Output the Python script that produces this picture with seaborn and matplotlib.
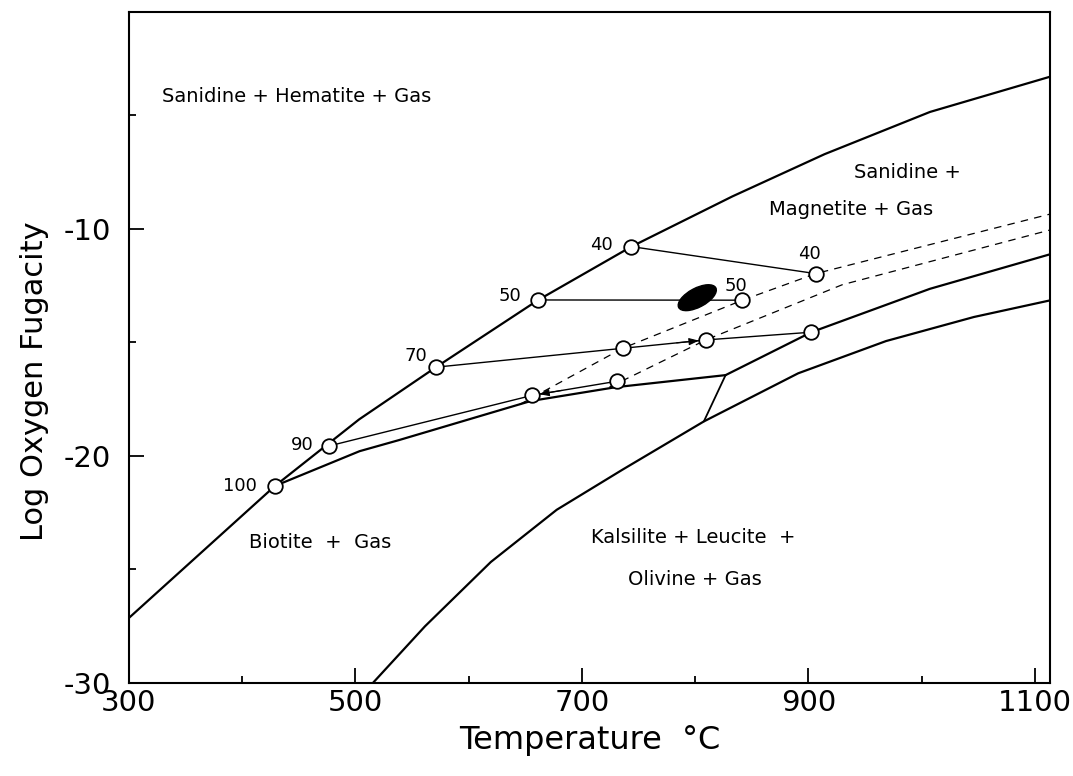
import numpy as np
import pandas as pd
import matplotlib
matplotlib.use("Agg")
import matplotlib.pyplot as plt
import seaborn as sns
from matplotlib.patches import Ellipse
from matplotlib import transforms

# ---------------- data (T in degC, log fO2) ----------------
# hematite-magnetite boundary
hm_T = [300, 429.1, 503.4, 571.3, 661.6, 743.9, 833.0, 914.4, 1007.5, 1113.4]
hm_f = [-27.14, -21.32, -18.39, -16.09, -13.13, -10.78, -8.57, -6.71, -4.85, -3.30]
# biotite upper stability (low T part)
bt_T = [429.1, 503.8, 538.7, 655.0, 730.2, 827.0]
bt_f = [-21.32, -19.79, -19.30, -17.58, -16.97, -16.44]
# biotite upper stability (high T part)
bt2_T = [827.0, 902.7, 1007.4, 1113.4]
bt2_f = [-16.44, -14.55, -12.64, -11.12]
# kink segment
kink_T = [827.0, 807.8]
kink_f = [-16.44, -18.48]
# kalsilite + leucite + olivine boundary
ks_T = [515.5, 561.6, 619.7, 677.9, 736.1, 807.8, 891.1, 968.7, 1046.3, 1113.4]
ks_f = [-30.0, -27.5, -24.67, -22.37, -20.6, -18.48, -16.36, -14.94, -13.88, -13.15]
# tie lines (annite %)
tie40_T = [743.9, 906.6]
tie40_f = [-10.78, -11.97]
tie50_T = [661.6, 841.9]
tie50_f = [-13.13, -13.14]
tie70_T = [571.3, 736.0, 809.6, 902.7]
tie70_f = [-16.09, -15.26, -14.89, -14.55]
tie90_T = [476.8, 656.4, 731.0]
tie90_f = [-19.56, -17.33, -16.71]
# dashed curves
dashA_T = [644.9, 736.0, 841.9, 906.6, 1113.4]
dashA_f = [-17.74, -15.26, -13.14, -11.97, -9.35]
dashB_T = [724.4, 809.6, 930.0, 1113.4]
dashB_f = [-16.97, -14.89, -12.46, -10.05]
# open circles
circ_T = [429.1, 476.8, 571.3, 661.6, 743.9, 906.6, 841.9, 736.0, 809.6, 902.7, 656.4, 731.0]
circ_f = [-21.32, -19.56, -16.09, -13.13, -10.78, -11.97, -13.14, -15.26, -14.89, -14.55, -17.33, -16.71]
# composition labels
comp_labels = ["100", "90", "70", "50", "40", "40", "50"]
comp_T = [429.1, 476.8, 571.3, 661.6, 743.9, 906.6, 841.9]
comp_f = [-21.32, -19.56, -16.09, -13.13, -10.78, -11.97, -13.14]
# natural sample (filled ellipse)
sample_T = 802.0
sample_f = -13.03

x_ticks = [300, 500, 700, 900, 1100]
x_minor = [400, 600, 800, 1000]
y_ticks = [-30, -20, -10]
y_minor = [-25, -15, -5]
y_ticklabels = ["-30", "-20", "-10"]

# ---------------- style ----------------
sns.set_theme(style="white")
plt.rcParams['font.family'] = ['DejaVu Sans']
plt.rcParams['axes.unicode_minus'] = False
plt.rcParams['text.color'] = 'black'
plt.rcParams['axes.labelcolor'] = 'black'
plt.rcParams['xtick.color'] = 'black'
plt.rcParams['ytick.color'] = 'black'

fig = plt.figure(figsize=(10.73, 7.76), dpi=100)
ax = fig.add_axes([0.120, 0.1198, 0.8586, 0.8647])

def line(T, f, lw=1.5):
    df = pd.DataFrame({"T": T, "f": f})
    sns.lineplot(data=df, x="T", y="f", ax=ax, color="black", lw=lw,
                 sort=False, estimator=None, zorder=2)
    return ax.lines[-1]

line(hm_T, hm_f, 1.6)
line(bt_T, bt_f, 1.6)
line(bt2_T, bt2_f, 1.6)
line(kink_T, kink_f, 1.3)
line(ks_T, ks_f, 1.6)
for T, f in [(tie40_T, tie40_f), (tie50_T, tie50_f), (tie70_T, tie70_f), (tie90_T, tie90_f)]:
    line(T, f, 1.0)
for T, f in [(dashA_T, dashA_f), (dashB_T, dashB_f)]:
    ln = line(T, f, 0.9)
    ln.set_dashes([6, 5])

# small direction arrows on tie lines (pointing into a circle)
def arrow_into(T0, f0, T1, f1):
    # arrow along segment from (T0,f0) towards circle at (T1,f1)
    Ts = T1 + 0.35 * (T0 - T1)
    fs_ = f1 + 0.35 * (f0 - f1)
    ax.annotate("", xy=(T1, f1), xytext=(Ts, fs_),
                arrowprops=dict(arrowstyle="-|>,head_length=0.5,head_width=0.18",
                                color="black", lw=0.8, shrinkA=0, shrinkB=5),
                zorder=3)

arrow_into(tie90_T[2], tie90_f[2], tie90_T[1], tie90_f[1])
arrow_into(tie70_T[1], tie70_f[1], tie70_T[2], tie70_f[2])

sns.scatterplot(x=circ_T, y=circ_f, ax=ax, s=110, facecolor="white",
                edgecolor="black", linewidth=1.3, zorder=4)

# sample ellipse (size in screen units)
tr = fig.dpi_scale_trans + transforms.ScaledTranslation(sample_T, sample_f, ax.transData)
ax.add_patch(Ellipse((0, 0), width=0.42, height=0.19, angle=28, transform=tr,
                     facecolor="black", edgecolor="black", zorder=3))

# composition labels
offs = [(-18, 0), (-15, 1), (-9, 11), (-17, 4), (-19, 2), (-6, 20), (-7, 14)]
has = ["right", "right", "right", "right", "right", "center", "center"]
for lab, T, f, (dx, dy), ha in zip(comp_labels, comp_T, comp_f, offs, has):
    ax.annotate(lab, (T, f), xytext=(dx, dy), textcoords="offset pixels",
                ha=ha, va="center", fontsize=13)

# region labels
fs = 14
ax.text(329, -4.18, "Sanidine + Hematite + Gas", fontsize=fs, va="center", ha="left")
ax.text(940.4, -7.53, "Sanidine +", fontsize=fs, va="center", ha="left")
ax.text(865, -9.16, "Magnetite + Gas", fontsize=fs, va="center", ha="left")
ax.text(406.4, -23.79, "Biotite  +  Gas", fontsize=fs, va="center", ha="left")
ax.text(708, -23.57, "Kalsilite + Leucite  +", fontsize=fs, va="center", ha="left")
ax.text(740.8, -25.46, "Olivine + Gas", fontsize=fs, va="center", ha="left")

# axes
ax.set_xlim(300, 1113.5)
ax.set_ylim(-30, -0.45)
ax.set_xticks(x_ticks)
ax.set_xticklabels([str(v) for v in x_ticks])
ax.set_xticks(x_minor, minor=True)
ax.set_yticks(y_ticks)
ax.set_yticklabels(y_ticklabels)
ax.set_yticks(y_minor, minor=True)
ax.tick_params(which="both", direction="in", color="black", width=1.3,
               bottom=True, left=True, top=False, right=False)
ax.tick_params(which="major", length=11)
ax.tick_params(which="minor", length=5)
ax.tick_params(axis="x", labelsize=21, pad=4)
ax.tick_params(axis="y", labelsize=21, pad=13)
for s in ax.spines.values():
    s.set_color("black")
    s.set_linewidth(1.5)
ax.set_xlabel("Temperature  °C", fontsize=23, labelpad=6)
ax.set_ylabel("Log Oxygen Fugacity", fontsize=22)
ax.yaxis.set_label_coords(-0.087, 0.45)

fig.savefig("out.png", dpi=100, facecolor="white")
